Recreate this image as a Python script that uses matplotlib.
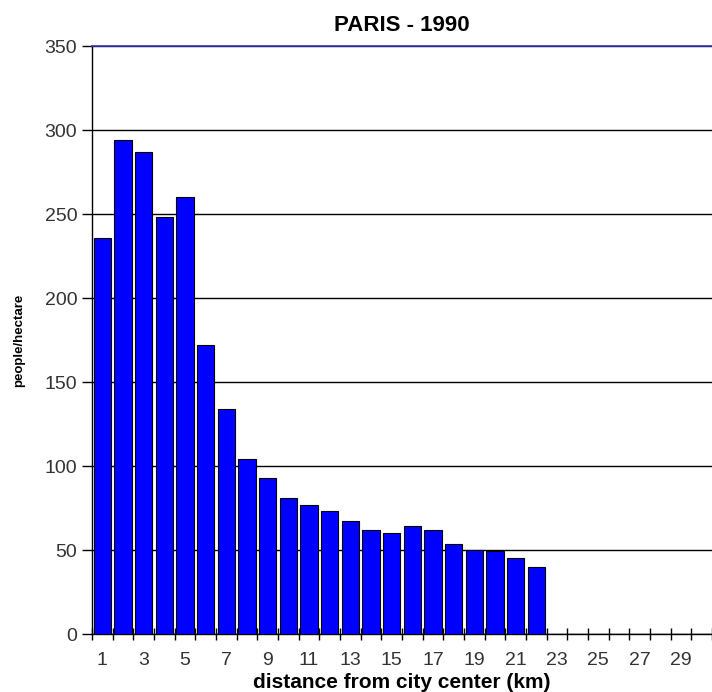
import matplotlib.pyplot as plt

# Population density by distance from the centre of Paris, 1990
distance_km = list(range(1, 31))
density = [236, 294, 287, 248, 260, 172, 134, 104, 93, 81,
           77, 73, 67.5, 62, 60, 64.5, 62, 53.5, 50, 49.5,
           45.5, 40, 0, 0, 0, 0, 0, 0, 0, 0]
tick_labels = [str(d) for d in range(1, 31, 2)]

plt.rcParams['font.family'] = ['Liberation Sans', 'DejaVu Sans']

fig = plt.figure(figsize=(7.12, 6.92), dpi=100)
ax = fig.add_axes([0.129, 0.0838, 0.871, 0.8497])

ax.bar(distance_km, density, width=0.84, color='#0000ff',
       edgecolor='black', linewidth=0.8, zorder=3)

ax.set_xlim(0.5, 30.5)
ax.set_ylim(0, 350)
ax.set_yticks(range(0, 351, 50))
ax.yaxis.grid(True, color='black', linewidth=1.0, zorder=0)

# boundary ticks between categories, labels on odd categories
ax.set_xticks([x + 0.5 for x in range(0, 31)])
ax.set_xticklabels([])
ax.set_xticks(list(range(1, 31, 2)), minor=True)
ax.set_xticklabels(tick_labels, minor=True)
ax.tick_params(axis='x', which='major', direction='inout', length=8, width=1)
ax.tick_params(axis='x', which='minor', length=0, pad=13)
ax.tick_params(axis='y', direction='out', length=7, width=1)
ax.tick_params(which='both', labelsize=14, labelcolor='#333333')

ax.spines['right'].set_visible(False)
ax.spines['top'].set_color('#3333bb')
ax.spines['top'].set_linewidth(1.2)
ax.spines['left'].set_linewidth(1.0)
ax.spines['bottom'].set_linewidth(1.0)

ax.set_title('PARIS - 1990', fontsize=16, fontweight='bold', pad=11)
ax.set_xlabel('distance from city center (km)', fontsize=15, fontweight='bold', labelpad=3)
ax.set_ylabel('people/hectare', fontsize=9.5, fontweight='bold', labelpad=14)

fig.savefig('out.png', dpi=100)
